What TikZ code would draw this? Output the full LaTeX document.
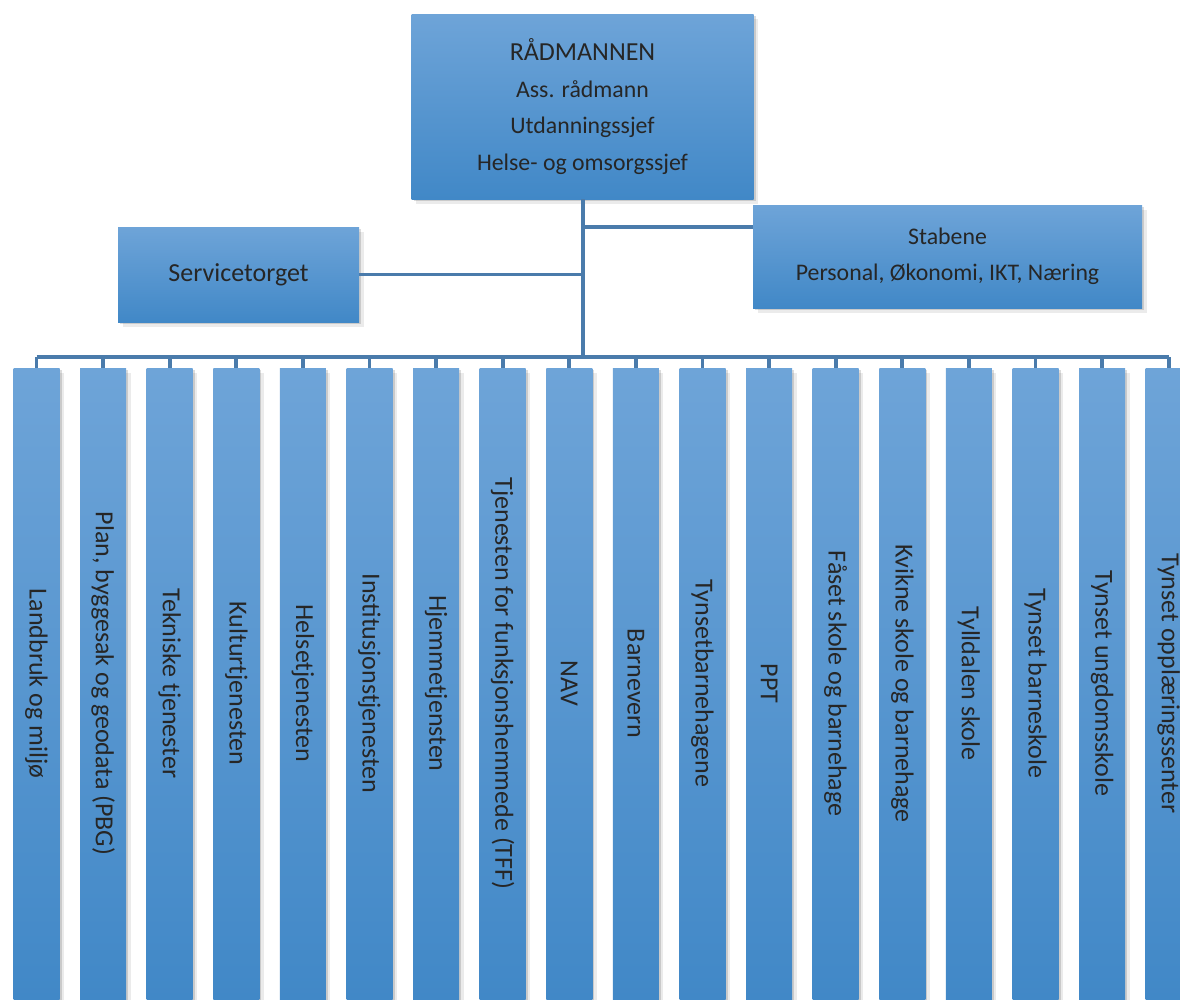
\documentclass[tikz,border=0pt]{standalone}
\usepackage{fontspec}
\setmainfont{Carlito}
\usetikzlibrary{shadows}
\definecolor{boxtop}{HTML}{6EA4D8}
\definecolor{boxbot}{HTML}{4188C7}
\definecolor{connc}{HTML}{4A7BAB}
\definecolor{txt}{HTML}{262626}
\tikzset{
  unitbox/.style={draw=none, top color=boxtop, bottom color=boxbot, inner sep=0pt,
    text=txt, font=\fontsize{26}{36.5}\selectfont, align=center,
    drop shadow={shadow xshift=2pt, shadow yshift=-2pt, opacity=.14, fill=black},
    drop shadow={shadow xshift=4.5pt, shadow yshift=-4.5pt, opacity=.08, fill=black}},
  smalltext/.style={font=\fontsize{23.8}{36.5}\selectfont},
  colbox/.style={unitbox, minimum width=46pt, minimum height=631pt},
  coltext/.style={rotate=-90, text=txt, font=\fontsize{26}{30}\selectfont, inner sep=0pt},
  conn/.style={draw=connc, line width=3.8pt},
}
\begin{document}
\begin{tikzpicture}[x=1pt, y=-1pt]
\useasboundingbox (0,0) rectangle (1180,999);
% top boxes
\node[unitbox, smalltext, minimum width=342pt, minimum height=185pt] (top) at (582.5,106.5)
  {{\fontsize{26}{36.5}\selectfont RÅDMANNEN}\\Ass. rådmann\\Utdanningssjef\\Helse- og omsorgssjef};
\node[unitbox, smalltext, minimum width=389pt, minimum height=103pt] (stab) at (947.5,256.5)
  {Stabene\\Personal, Økonomi, IKT, Næring};
\node[unitbox, minimum width=241pt, minimum height=95pt] (serv) at (238.5,274.5)
  {Servicetorget};
% columns
\foreach \i/\lab in {0/Landbruk og miljø, 1/{Plan, byggesak og geodata (PBG)},
  2/Tekniske tjenester, 3/Kulturtjenesten, 4/Helsetjenesten,
  5/Institusjonstjenesten, 6/Hjemmetjensten, 7/Tjenesten for funksjonshemmede (TFF),
  8/NAV, 9/Barnevern, 10/Tynsetbarnehagene, 11/PPT, 12/Fåset skole og barnehage,
  13/Kvikne skole og barnehage, 14/Tylldalen skole, 15/Tynset barneskole,
  16/Tynset ungdomsskole, 17/Tynset opplæringssenter}{
  \pgfmathsetmacro{\cx}{36.5+\i*66.6}
  \node[colbox] (c\i) at (\cx,683.5) {};
  \node[coltext] (t\i) at (c\i.center) {\lab};
}
% connectors
\coordinate (busL) at (36.5,357);
\coordinate (busR) at (1168.7,357);
\coordinate (j1) at (582.5,227);
\draw[conn, line width=3.5pt] (busL) -- (busR);
\foreach \i in {0,...,17}{
  \draw[conn] (c\i.north) -- (c\i.north |- busL);
}
\draw[conn, line width=4pt] (top.south) -- (top.south |- busL);
\draw[conn, line width=3.2pt] (j1) -- (j1 -| stab.west);
\draw[conn, line width=3.2pt] (serv.east) -- (serv.east -| top.south);
\end{tikzpicture}
\end{document}
